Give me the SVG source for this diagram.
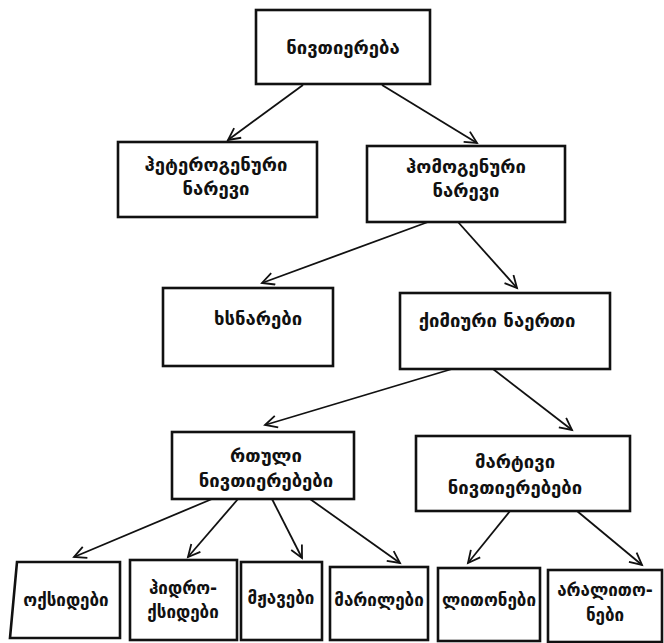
<svg xmlns="http://www.w3.org/2000/svg" width="664" height="643" viewBox="0 0 664 643">
<style>
.box{fill:#fff;stroke:#111;stroke-width:2.6}
.t{font-family:"DejaVu Sans",sans-serif;font-size:18.5px;font-weight:bold;fill:#111;text-anchor:middle;dominant-baseline:central}
.s{font-size:17px}
.c{fill:none;stroke:#111;stroke-width:1.8;marker-end:url(#ah)}
</style>
<defs>
<marker id="ah" markerUnits="userSpaceOnUse" markerWidth="16" markerHeight="16" refX="13" refY="7" orient="auto">
<path d="M1,1 L13,7 L1,13" fill="none" stroke="#111" stroke-width="1.8"/>
</marker>
</defs>
<rect width="664" height="643" fill="#fff"/>
<g id="connectors">
<line class="c" x1="303" y1="85" x2="228" y2="140"/>
<line class="c" x1="382" y1="85" x2="477" y2="143"/>
<line class="c" x1="428" y1="222" x2="262" y2="283"/>
<line class="c" x1="458" y1="222" x2="517" y2="288"/>
<line class="c" x1="452" y1="369" x2="265" y2="425"/>
<line class="c" x1="493" y1="369" x2="572" y2="430"/>
<line class="c" x1="212" y1="499" x2="74" y2="557"/>
<line class="c" x1="238" y1="499" x2="188" y2="557"/>
<line class="c" x1="272" y1="499" x2="302" y2="558"/>
<line class="c" x1="310" y1="499" x2="400" y2="563"/>
<line class="c" x1="510" y1="511" x2="468" y2="563"/>
<line class="c" x1="577" y1="511" x2="642" y2="565"/>
</g>
<g id="n-substance"><rect class="box" x="256" y="10" width="174" height="74"/><text class="t" x="343" y="47">ნივთიერება</text></g>
<g id="n-hetero"><rect class="box" x="118" y="142" width="199" height="75"/><text class="t" x="216" y="164">ჰეტეროგენური</text><text class="t" x="216" y="188">ნარევი</text></g>
<g id="n-homo"><rect class="box" x="367" y="146" width="198" height="76"/><text class="t" x="466" y="166">ჰომოგენური</text><text class="t" x="466" y="190">ნარევი</text></g>
<g id="n-solutions"><rect class="box" x="163" y="288" width="170" height="78"/><text class="t" x="258" y="318">ხსნარები</text></g>
<g id="n-compound"><rect class="box" x="400" y="293" width="210" height="76"/><text class="t" x="497" y="320">ქიმიური ნაერთი</text></g>
<g id="n-complex"><rect class="box" x="172" y="432" width="182" height="67"/><text class="t" x="266" y="455">რთული</text><text class="t" x="266" y="480">ნივთიერებები</text></g>
<g id="n-simple"><rect class="box" x="416" y="436" width="214" height="75"/><text class="t" x="515" y="461">მარტივი</text><text class="t" x="515" y="487">ნივთიერებები</text></g>
<g id="n-oxides"><polygon class="box" points="17,562 120,562 120,638 10,638"/><text class="t s" x="66" y="600">ოქსიდები</text></g>
<g id="n-hydroxides"><rect class="box" x="130" y="560" width="107" height="80"/><text class="t s" x="183" y="588">ჰიდრო-</text><text class="t s" x="183" y="612">ქსიდები</text></g>
<g id="n-acids"><rect class="box" x="241" y="562" width="81" height="78"/><text class="t s" x="281" y="598">მჟავები</text></g>
<g id="n-salts"><rect class="box" x="330" y="567" width="98" height="73"/><text class="t s" x="379" y="600">მარილები</text></g>
<g id="n-metals"><rect class="box" x="438" y="568" width="102" height="73"/><text class="t s" x="489" y="600">ლითონები</text></g>
<g id="n-nonmetals"><rect class="box" x="548" y="570" width="114" height="72"/><text class="t s" x="605" y="590">არალითო-</text><text class="t s" x="605" y="615">ნები</text></g>
</svg>
